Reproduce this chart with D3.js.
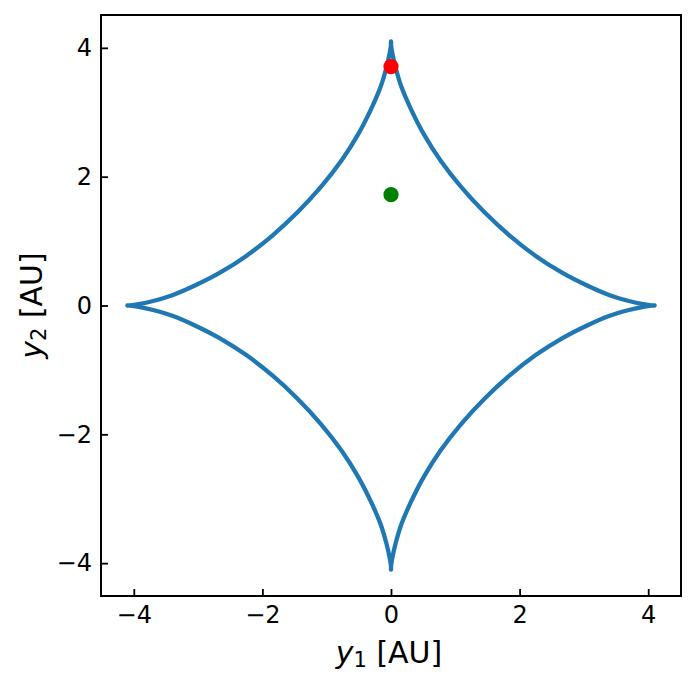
<!DOCTYPE html>
<html>
<head>
<meta charset="utf-8">
<script src="https://cdn.jsdelivr.net/npm/d3@7"></script>
<style>
  body { margin: 0; background: #fff; }
  text { font-family: "DejaVu Sans", sans-serif; }
</style>
</head>
<body>
<div id="chart"></div>
<script>
// caustic curve points, going round the loop
let causticY1 = [4.10, 4.05, 3.92, 3.70, 3.40, 3.05, 2.66, 2.25, 1.84, 1.45, 1.09, 0.77, 0.51, 0.31, 0.16, 0.07, 0.02, 0.00,
                 0.00, -0.00, -0.02, -0.07, -0.16, -0.31, -0.51, -0.77, -1.09, -1.45, -1.84, -2.25, -2.66, -3.05, -3.40, -3.70, -3.92, -4.05,
                 -4.10, -4.05, -3.92, -3.70, -3.40, -3.05, -2.66, -2.25, -1.84, -1.45, -1.09, -0.77, -0.51, -0.31, -0.16, -0.07, -0.02, -0.00,
                 0.00, 0.00, 0.02, 0.07, 0.16, 0.31, 0.51, 0.77, 1.09, 1.45, 1.84, 2.25, 2.66, 3.05, 3.40, 3.70, 3.92, 4.05];
let causticY2 = [0.00, 0.00, 0.02, 0.07, 0.16, 0.31, 0.51, 0.77, 1.09, 1.45, 1.84, 2.25, 2.66, 3.05, 3.40, 3.70, 3.92, 4.05,
                 4.10, 4.05, 3.92, 3.70, 3.40, 3.05, 2.66, 2.25, 1.84, 1.45, 1.09, 0.77, 0.51, 0.31, 0.16, 0.07, 0.02, 0.00,
                 0.00, -0.00, -0.02, -0.07, -0.16, -0.31, -0.51, -0.77, -1.09, -1.45, -1.84, -2.25, -2.66, -3.05, -3.40, -3.70, -3.92, -4.05,
                 -4.10, -4.05, -3.92, -3.70, -3.40, -3.05, -2.66, -2.25, -1.84, -1.45, -1.09, -0.77, -0.51, -0.31, -0.16, -0.07, -0.02, -0.00];

// the two marked positions
let pointY1 = [0.0, 0.0];
let pointY2 = [3.71, 1.72];
let pointColors = ["#ff0000", "#008000"];

let ticks = [-4, -2, 0, 2, 4];

let w = 697;
let h = 684;
let mLeft = 101, mRight = 681, mTop = 15, mBottom = 596;

let svg = d3.select("#chart").append("svg")
              .attr("width", w)
              .attr("height", h);

let x = d3.scaleLinear().domain([-4.51, 4.51]).range([mLeft, mRight]);
let y = d3.scaleLinear().domain([-4.51, 4.51]).range([mBottom, mTop]);

let pts = causticY1.map((v, i) => [v, causticY2[i]]);

let line = d3.line()
               .x(d => x(d[0]))
               .y(d => y(d[1]))
               .curve(d3.curveCatmullRomClosed.alpha(0.5));

svg.append("path")
     .attr("d", line(pts))
     .attr("fill", "none")
     .attr("stroke", "#1f77b4")
     .attr("stroke-width", 4.3)
     .attr("stroke-linejoin", "round");

svg.selectAll("circle.pt").data(pointY1).enter()
     .append("circle")
       .attr("class", "pt")
       .attr("cx", d => x(d))
       .attr("cy", (d, i) => y(pointY2[i]))
       .attr("r", 7.6)
       .attr("fill", (d, i) => pointColors[i]);

// axes, ticks inward
let fmt = d => d < 0 ? "\u2212" + Math.abs(d) : d;
let xAxis = d3.axisBottom(x).tickValues(ticks).tickSizeInner(-7).tickSizeOuter(0).tickPadding(10).tickFormat(fmt);
let yAxis = d3.axisLeft(y).tickValues(ticks).tickSizeInner(-7).tickSizeOuter(0).tickPadding(9).tickFormat(fmt);

let gx = svg.append("g").attr("transform", "translate(0," + mBottom + ")").call(xAxis);
let gy = svg.append("g").attr("transform", "translate(" + mLeft + ",0)").call(yAxis);

[gx, gy].forEach(g => {
  g.select(".domain").remove();
  g.selectAll(".tick line").attr("stroke", "#000").attr("stroke-width", 1.8);
  g.selectAll(".tick text").attr("font-size", 24).attr("fill", "#000")
    .style("font-family", "DejaVu Sans");
});

svg.append("rect")
     .attr("x", mLeft).attr("y", mTop)
     .attr("width", mRight - mLeft).attr("height", mBottom - mTop)
     .attr("fill", "none").attr("stroke", "#000").attr("stroke-width", 2);

// axis labels with italic y and subscript
let xl = svg.append("text")
              .attr("x", (mLeft + mRight) / 2 - 2).attr("y", 663)
              .attr("text-anchor", "middle").attr("font-size", 30);
xl.append("tspan").attr("font-style", "italic").text("y");
xl.append("tspan").attr("font-size", 21).attr("dy", 4).text("1");
xl.append("tspan").attr("dy", -4).text(" [AU]");

let yl = svg.append("text")
              .attr("transform", "translate(42," + (mTop + mBottom) / 2 + ") rotate(-90)")
              .attr("text-anchor", "middle").attr("font-size", 30);
yl.append("tspan").attr("font-style", "italic").text("y");
yl.append("tspan").attr("font-size", 21).attr("dy", 4).text("2");
yl.append("tspan").attr("dy", -4).text(" [AU]");
</script>
</body>
</html>
